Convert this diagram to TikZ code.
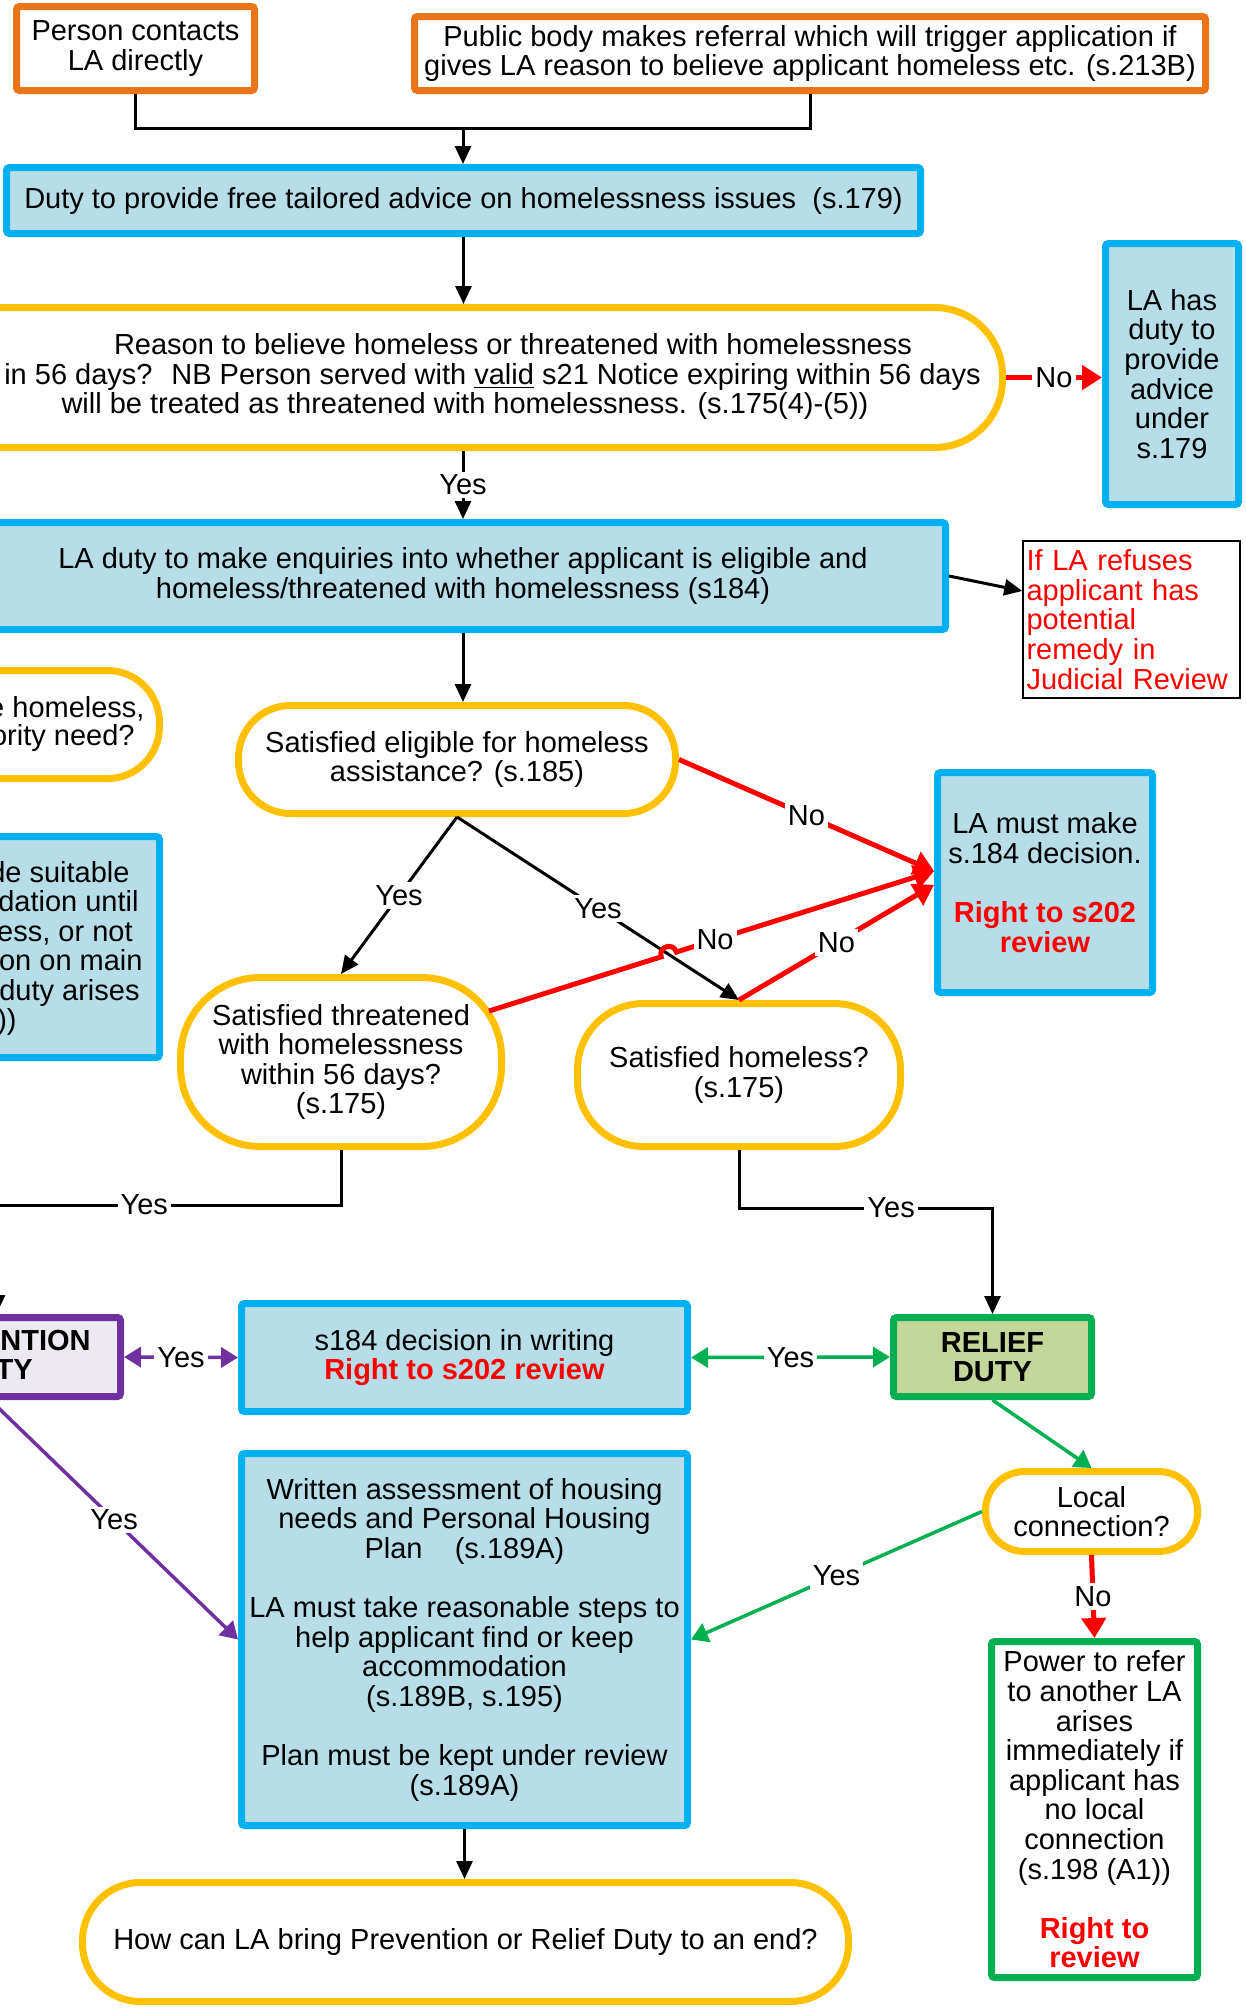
\documentclass[tikz,border=0pt]{standalone}
\usepackage{fontspec}
\setmainfont{Liberation Sans}
\usetikzlibrary{arrows.meta,calc}
\definecolor{orangeB}{RGB}{235,116,25}
\definecolor{blueB}{RGB}{0,176,240}
\definecolor{blueF}{RGB}{183,222,232}
\definecolor{goldB}{RGB}{255,192,0}
\definecolor{greenB}{RGB}{0,176,80}
\definecolor{greenF}{RGB}{196,215,155}
\definecolor{purpleB}{RGB}{112,48,160}
\definecolor{lavF}{RGB}{237,233,242}
\definecolor{redL}{RGB}{255,0,0}
\begin{document}
\begin{tikzpicture}[x=0.5pt,y=-0.5pt,
  every node/.style={font=\fontsize{14.5}{14.8}\selectfont, inner sep=0pt},
  base/.style={draw, line width=3.5pt, rounded corners=1.5pt, align=center},
  orangebox/.style={base, draw=orangeB, fill=white},
  bluebox/.style={base, draw=blueB, fill=blueF},
  goldbox/.style={base, draw=goldB, fill=white},
  greenbox/.style={base, draw=greenB, fill=white},
  reliefbox/.style={base, draw=greenB, fill=greenF},
  prevbox/.style={base, draw=purpleB, fill=lavF},
  conn/.style={line width=1.5pt, draw=black},
  arr/.style={arrows={-Triangle[length=9pt,width=8pt]}},
  redl/.style={line width=2.5pt, draw=redL},
  rarr/.style={arrows={-Triangle[length=10pt,width=12pt]}},
  pconn/.style={line width=1.75pt, draw=purpleB},
  gconn/.style={line width=1.75pt, draw=greenB},
  parr/.style={arrows={-Triangle[length=8.5pt,width=10pt]}},
  pdarr/.style={arrows={Triangle[length=8.5pt,width=10pt]-Triangle[length=8.5pt,width=10pt]}},
  garr/.style={arrows={-Triangle[length=8.5pt,width=10pt]}},
  gdarr/.style={arrows={Triangle[length=8.5pt,width=10pt]-Triangle[length=8.5pt,width=10pt]}},
  lab/.style={fill=white, inner sep=1.5pt, text=black},
  frag/.style={anchor=base east}
]
\useasboundingbox (0,0) rectangle (1246,2009);
\clip (0,0) rectangle (1246,2009);

% ---- nodes ----
\node[orangebox, minimum width=119pt, minimum height=42pt] (person) at (135.5,48.5)
  {Person contacts\\LA directly};
\node[orangebox, minimum width=395.5pt, minimum height=37pt] (public) at (810,53.5)
  {Public body makes referral which will trigger application if\\gives LA reason to believe applicant homeless etc. (s.213B)};
\node[bluebox, minimum width=457pt, minimum height=33pt] (advice) at (463.5,200.5)
  {Duty to provide free tailored advice on homelessness issues~ (s.179)};

\node[goldbox, rounded corners=34pt, minimum width=539.5pt, minimum height=70pt] (reason) at (463,377.5) {};
\node[anchor=base] (reasonA) at (513,354) {Reason to believe homeless or threatened with homelessness};
\node[frag] (reasonB) at (981,384) {in 56 days?~ NB Person served with \underline{valid} s21 Notice expiring within 56 days};
\node[anchor=base] (reasonC) at (465,413) {will be treated as threatened with homelessness. (s.175(4)-(5))};

\node[bluebox, minimum width=66.5pt, minimum height=130.5pt] (lahas) at (1172,374)
  {LA has\\duty to\\provide\\advice\\under\\s.179};

\node[bluebox, minimum width=482.5pt, minimum height=53.5pt] (enq) at (463,576)
  {LA duty to make enquiries into whether applicant is eligible and\\homeless/threatened with homelessness (s184)};

\node[draw=black, line width=0.75pt, fill=white, minimum width=108.5pt, minimum height=78.5pt,
  text width=105pt, inner xsep=1.5pt, align=left, text=redL] (jr) at (1131.5,619.5)
  {If LA refuses\\applicant has\\potential\\remedy in\\Judicial Review};

\node[goldbox, rounded corners=26pt, minimum width=218.5pt, minimum height=54pt] (elig) at (457,759.5)
  {Satisfied eligible for homeless\\assistance? (s.185)};

\node[goldbox, rounded corners=26pt, minimum width=229.75pt, minimum height=54pt] (leftq) at (-70.25,724.5) {};
\node[frag] (leftq1) at (145,717) {e homeless,};
\node[frag] (leftq2) at (135,745) {ority need?};

\node[bluebox, minimum width=229.75pt, minimum height=110.5pt] (leftb) at (-70.25,947) {};
\node[frag] (leftb1) at (130,882) {de suitable};
\node[frag] (leftb2) at (139,911.5) {dation until};
\node[frag] (leftb3) at (133,941) {ess, or not};
\node[frag] (leftb4) at (143,970.5) {on on main};
\node[frag] (leftb5) at (140,1000) {duty arises};
\node[frag] (leftb6) at (17,1029.5) {))};

\node[goldbox, rounded corners=40pt, minimum width=160.5pt, minimum height=84.5pt] (thr) at (341,1062)
  {Satisfied threatened\\with homelessness\\within 56 days?\\(s.175)};
\node[goldbox, rounded corners=33pt, minimum width=161.5pt, minimum height=71.5pt] (hom) at (739,1075)
  {Satisfied homeless?\\(s.175)};

\node[bluebox, minimum width=107.5pt, minimum height=110pt] (lamust) at (1045,882.5)
  {LA must make\\s.184 decision.\\[14.8pt]\textcolor{redL}{\textbf{Right to s202}}\\\textcolor{redL}{\textbf{review}}};

\node[prevbox, minimum width=130.25pt, minimum height=39.5pt] (prev) at (-9.75,1357) {};
\node[frag, font=\fontsize{14.5}{14.8}\selectfont\bfseries] (prev1) at (91,1350) {NTION};
\node[frag, font=\fontsize{14.5}{14.8}\selectfont\bfseries] (prev2) at (33,1379) {TY};

\node[bluebox, minimum width=223pt, minimum height=54pt] (s184) at (464.5,1357.5)
  {s184 decision in writing\\\textcolor{redL}{\textbf{Right to s202 review}}};

\node[reliefbox, minimum width=99pt, minimum height=39.5pt, font=\fontsize{14.5}{14.8}\selectfont\bfseries] (relief) at (992.5,1357)
  {RELIEF\\DUTY};

\node[goldbox, rounded corners=19.5pt, minimum width=106pt, minimum height=40pt] (local) at (1091.5,1511.5)
  {Local\\connection?};

\node[bluebox, minimum width=223pt, minimum height=186pt] (written) at (464.5,1639.5)
  {Written assessment of housing\\needs and Personal Housing\\Plan~~~~(s.189A)\\[14.8pt]LA must take reasonable steps to\\help applicant find or keep\\accommodation\\(s.189B, s.195)\\[14.8pt]Plan must be kept under review\\(s.189A)};

\node[goldbox, rounded corners=29pt, minimum width=383pt, minimum height=59.5pt] (final) at (465.5,1942)
  {How can LA bring Prevention or Relief Duty to an end?};

\node[greenbox, minimum width=103pt, minimum height=168pt] (power) at (1094.5,1809.5)
  {Power to refer\\to another LA\\arises\\immediately if\\applicant has\\no local\\connection\\(s.198 (A1))\\[14.8pt]\textcolor{redL}{\textbf{Right to}}\\\textcolor{redL}{\textbf{review}}};

% ---- connectors ----
\coordinate (j) at (463,128);
\draw[conn] (person.south) |- (j) -| (public.south);
\draw[conn,arr] (j) -- (j |- advice.north);
\draw[conn,arr] (advice.south) -- (advice.south |- reason.north);
\draw[redl,rarr] (reason.east) -- node[lab]{No} (reason.east -| lahas.west);
\draw[conn,arr] (reason.south) -- node[lab]{Yes} (reason.south |- enq.north);
\draw[conn,arr] (enq.east) -- ($(jr.north west)!0.32!(jr.south west)$);
\draw[conn,arr] (enq.south) -- (enq.south |- elig.north);
\draw[conn,arr] (elig.south) -- node[lab]{Yes} (thr.north);
\draw[conn,arr] (elig.south) -- node[lab]{Yes} (hom.north);

\draw[redl,rarr] (elig.east) -- node[lab]{No} ($(lamust.north west)!0.45!(lamust.south west)$);
\coordinate (ts) at ($(thr.center)+(148,-51)$);
\coordinate (jx) at (668.8,954.4);
\draw[redl,rarr] (ts) -- ($(jx)+(-7.6,2.4)$)
  .. controls ($(jx)+(-10.8,-7.8)$) and ($(jx)+(4.4,-12.6)$) .. ($(jx)+(7.6,-2.4)$)
  -- node[lab,pos=0.15]{No} ($(lamust.north west)!0.45!(lamust.south west)$);
\draw[redl,rarr] (hom.north) -- node[lab]{No} ($(lamust.north west)!0.51!(lamust.south west)$);

\coordinate (c1) at (-3,1205);
\coordinate (c2) at (-3,1313);
\draw[conn,arr] (thr.south) |- node[lab,pos=0.786]{Yes} (c1) -- (c2);
\draw[conn,arr] (hom.south) -- ++(0,58) -| node[lab,pos=0.3]{Yes} (relief.north);

\draw[pconn,pdarr] (prev.east) -- node[lab]{Yes} (s184.west);
\draw[gconn,gdarr] (s184.east) -- node[lab]{Yes} (relief.west);
\draw[gconn,garr] (relief.south) -- (local.north);
\draw[gconn,garr] (local.west) -- node[lab]{Yes} (written.east);
\draw[redl,rarr] (local.south) -- node[lab]{No} (power.north);
\draw[pconn,parr] (prev.south) -- node[lab]{Yes} (written.west);
\draw[conn,arr] (written.south) -- (written.south |- final.north);
\end{tikzpicture}
\end{document}
